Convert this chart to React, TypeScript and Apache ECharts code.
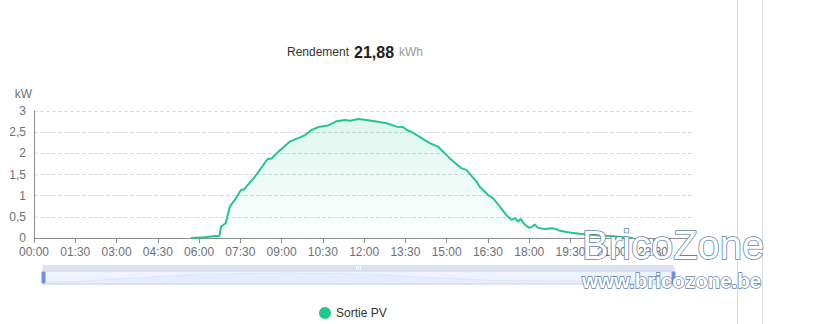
import React, { useEffect, useRef } from "react";
import * as echarts from "echarts";

const times: string[] = [
  "05:42", "06:13", "06:35", "06:44", "06:48", "06:58", "07:07", "07:18", "07:31", "07:38",
  "08:02", "08:29", "08:38", "08:53", "09:18", "09:36", "09:51", "10:05", "10:23", "10:42",
  "11:00", "11:18", "11:29", "11:47", "12:05", "12:27", "12:49", "13:11", "13:25", "13:33",
  "13:43", "14:01", "14:23", "14:41", "15:07", "15:32", "15:43", "16:05", "16:12", "16:30",
  "16:41", "16:56", "17:10", "17:21", "17:29", "17:36", "17:41", "17:50", "18:00", "18:07",
  "18:12", "18:19", "18:34", "18:49", "18:59", "19:07", "19:28", "19:50", "20:34", "21:02",
  "21:46",
];
const values: number[] = [
  0, 0.02, 0.05, 0.04, 0.27, 0.35, 0.74, 0.9, 1.13, 1.15,
  1.45, 1.86, 1.88, 2.04, 2.28, 2.36, 2.43, 2.55, 2.63, 2.66,
  2.76, 2.79, 2.77, 2.81, 2.79, 2.75, 2.71, 2.63, 2.62, 2.55,
  2.51, 2.39, 2.24, 2.16, 1.88, 1.65, 1.61, 1.33, 1.21, 1.02,
  0.94, 0.74, 0.54, 0.43, 0.47, 0.39, 0.45, 0.32, 0.24, 0.27,
  0.32, 0.24, 0.21, 0.23, 0.21, 0.17, 0.13, 0.1, 0.06, 0.04,
  0,
];
const seriesName = "Sortie PV";
const yieldLabel = "Rendement";
const yieldValue = "21,88";
const yieldUnit = "kWh";
const yUnit = "kW";

const toMin = (t: string) => {
  const [h, m] = t.split(":").map(Number);
  return h * 60 + m;
};
const fmtMin = (v: number) => {
  const h = Math.floor(v / 60);
  const m = Math.round(v % 60);
  return String(h).padStart(2, "0") + ":" + String(m).padStart(2, "0");
};

export default function App() {
  const ref = useRef<HTMLDivElement>(null);
  useEffect(() => {
    if (!ref.current) return;
    const chart = echarts.init(ref.current, undefined, { renderer: "svg" });
    const data = times.map((t, i) => [toMin(t), values[i]]);
    const font = "Liberation Sans";
    chart.setOption({
      animation: false,
      textStyle: { fontFamily: font },
      title: {
        text: `{a|${yieldLabel}} {b|${yieldValue}} {c|${yieldUnit}}`,
        left: 350,
        top: 38,
        textAlign: "center",
        textStyle: {
          fontWeight: "normal",
          rich: {
            a: { fontSize: 12, color: "#333", fontWeight: "normal", fontFamily: font },
            b: { fontSize: 16, fontWeight: "bold", color: "#222", fontFamily: font },
            c: { fontSize: 12, color: "#999", fontWeight: "normal", fontFamily: font },
          },
        },
      },
      legend: {
        left: 314,
        top: 302,
        icon: "circle",
        itemWidth: 12,
        itemHeight: 12,
        itemGap: 5,
        textStyle: { fontSize: 12, color: "#333", fontFamily: font },
        data: [seriesName],
      },
      grid: { left: 34, right: 125, top: 111, bottom: 86, containLabel: false },
      xAxis: {
        type: "value",
        min: 0,
        max: 1435,
        interval: 90,
        axisLine: { show: true, lineStyle: { color: "#8c8c8c" } },
        axisTick: { show: true, lineStyle: { color: "#8c8c8c" } },
        axisLabel: {
          color: "#6E7079",
          fontSize: 12,
          showMaxLabel: false,
          formatter: (v: number) => fmtMin(v),
        },
        splitLine: { show: false },
      },
      yAxis: {
        type: "value",
        min: 0,
        max: 3,
        interval: 0.5,
        name: yUnit,
        nameGap: 11,
        nameTextStyle: { color: "#6E7079", fontSize: 12, align: "right", padding: [0, 2, 0, 0] },
        axisLine: { show: true, lineStyle: { color: "#8c8c8c" } },
        axisTick: { show: false },
        axisLabel: {
          color: "#6E7079",
          fontSize: 12,
          formatter: (v: number) => String(v).replace(".", ","),
        },
        splitLine: { show: true, lineStyle: { type: "dashed", color: "#dcdcdc" } },
      },
      dataZoom: [
        {
          type: "slider",
          xAxisIndex: 0,
          left: 40,
          right: 145,
          top: 265,
          height: 14,
          start: 0,
          end: 100,
          filterMode: "none",
          borderColor: "#c9d2ea",
          fillerColor: "rgba(135,175,274,0.15)",
          dataBackground: {
            lineStyle: { color: "#d2dbee", opacity: 0.5 },
            areaStyle: { color: "#d2dbee", opacity: 0.15 },
          },
          selectedDataBackground: {
            lineStyle: { color: "#c8d4f2", opacity: 0.6 },
            areaStyle: { color: "#c8d4f2", opacity: 0.15 },
          },
          handleIcon: "path://M0,0 h3 v11 h-3 z",
          handleSize: "78%",
          handleStyle: { color: "#6f8fe6", borderColor: "#6f8fe6" },
          moveHandleSize: 6,
          moveHandleStyle: { color: "#d2dbee", opacity: 0.8 },
          showDetail: false,
        },
        { type: "inside", xAxisIndex: 0, filterMode: "none" },
      ],
      series: [
        {
          name: seriesName,
          type: "line",
          data,
          showSymbol: false,
          symbol: "circle",
          itemStyle: { color: "#22c88b" },
          lineStyle: { color: "#22c88b", width: 2 },
          areaStyle: {
            color: new echarts.graphic.LinearGradient(0, 0, 0, 1, [
              { offset: 0, color: "rgba(34,200,139,0.22)" },
              { offset: 1, color: "rgba(34,200,139,0.02)" },
            ]),
          },
        },
      ],
      graphic: [
        { type: "line", shape: { x1: 737.5, y1: 0, x2: 737.5, y2: 324 }, style: { stroke: "#dddddd", lineWidth: 1 }, z: 1 },
        { type: "line", shape: { x1: 762.5, y1: 0, x2: 762.5, y2: 324 }, style: { stroke: "#dddddd", lineWidth: 1 }, z: 1 },
        {
          type: "text",
          x: 582,
          y: 245,
          z: 100,
          style: {
            text: "BricoZone",
            fontSize: 40,
            fontFamily: font,
            fill: "#ffffff",
            stroke: "#5f84ad",
            lineWidth: 1.6,
            textVerticalAlign: "middle",
            verticalAlign: "middle",
          },
        },
        {
          type: "text",
          x: 582,
          y: 280,
          z: 100,
          style: {
            text: "www.bricozone.be",
            fontSize: 20.5,
            fontWeight: "bold",
            fontFamily: font,
            fill: "#ffffff",
            stroke: "#5f84ad",
            lineWidth: 1.4,
            textVerticalAlign: "middle",
            verticalAlign: "middle",
          },
        },
      ],
    });
    return () => chart.dispose();
  }, []);
  return (
    <div
      ref={ref}
      style={{ position: "fixed", left: 0, top: 0, width: 817, height: 324, background: "#fff" }}
    />
  );
}
